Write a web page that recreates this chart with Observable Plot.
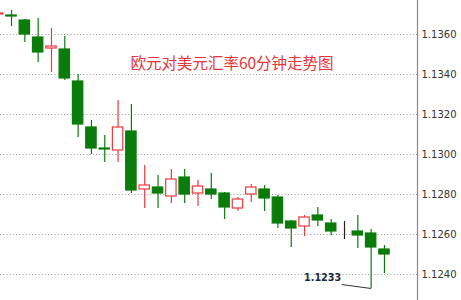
<!DOCTYPE html>
<html>
<head>
<meta charset="utf-8">
<script src="https://cdn.jsdelivr.net/npm/d3@7"></script>
<script src="https://cdn.jsdelivr.net/npm/@observablehq/plot@0.6"></script>
<style>
  html, body { margin: 0; padding: 0; background: #fff; }
  #chart svg { display: block; }
</style>
</head>
<body>
<div id="chart"></div>
<script>
// EUR/USD hourly candles (oldest first)
const open  = [1.13700, 1.13695, 1.13670, 1.13585, 1.13530, 1.13525, 1.13365, 1.13135, 1.13030, 1.13020,
               1.13115, 1.12825, 1.12835, 1.12790, 1.12885, 1.12805, 1.12825, 1.12805, 1.12730, 1.12800,
               1.12825, 1.12785, 1.12665, 1.12640, 1.12695, 1.12655, 1.12620, 1.12615, 1.12605, 1.12525];
const high  = [1.13720, 1.13720, 1.13675, 1.13680, 1.13630, 1.13590, 1.13400, 1.13170, 1.13095, 1.13270,
               1.13250, 1.12945, 1.12895, 1.12925, 1.12925, 1.12870, 1.12905, 1.12810, 1.12785, 1.12850,
               1.12845, 1.12795, 1.12670, 1.12695, 1.12735, 1.12675, 1.12665, 1.12695, 1.12625, 1.12545];
const low   = [1.13680, 1.13640, 1.13560, 1.13460, 1.13410, 1.13370, 1.13085, 1.13000, 1.12960, 1.12960,
               1.12805, 1.12730, 1.12730, 1.12755, 1.12755, 1.12740, 1.12775, 1.12675, 1.12715, 1.12760,
               1.12715, 1.12630, 1.12535, 1.12590, 1.12640, 1.12595, 1.12575, 1.12530, 1.12330, 1.12405];
const close = [1.13705, 1.13690, 1.13600, 1.13510, 1.13540, 1.13380, 1.13150, 1.13030, 1.13025, 1.13135,
               1.12820, 1.12845, 1.12805, 1.12875, 1.12800, 1.12840, 1.12800, 1.12735, 1.12775, 1.12835,
               1.12780, 1.12655, 1.12630, 1.12685, 1.12670, 1.12615, 1.12620, 1.12595, 1.12535, 1.12500];

const yTicks = [1.1240, 1.1260, 1.1280, 1.1300, 1.1320, 1.1340, 1.1360];
const title = "欧元对美元汇率60分钟走势图";
const lowLabelIndex = 28; // candle whose low is annotated

const UP = "#ec3a40", DOWN = "#0b7c0b", FLAT = "#222";

const candles = open.map((o, i) => ({
  i, open: o, high: high[i], low: low[i], close: close[i],
  color: close[i] > o ? UP : close[i] < o ? DOWN : FLAT,
  fill: close[i] > o ? "#fff" : close[i] < o ? DOWN : FLAT
}));

const xDomain = [0.1727, 31.48];
const halfBody = 0.39;
const lowPt = candles[lowLabelIndex];

const chart = Plot.plot({
  width: 461,
  height: 300,
  marginTop: 0,
  marginBottom: 0,
  marginLeft: 0,
  marginRight: 44,
  style: { background: "#fff", overflow: "hidden" },
  x: { type: "linear", domain: xDomain, axis: null },
  y: { domain: [1.1227, 1.1377] },
  marks: [
    Plot.ruleY(yTicks, { stroke: "#9a9a9a", strokeDasharray: "1,2.2", strokeWidth: 1 }),
    Plot.ruleX([xDomain[1]], { stroke: "#8a8a8a", strokeWidth: 1.2 }),
    Plot.axisY({
      anchor: "right", ticks: yTicks, tickSize: 0, tickPadding: 4,
      tickFormat: d3.format(".4f"),
      fontFamily: "DejaVu Sans", fontSize: 10, fill: "#333", label: null
    }),
    Plot.ruleX(candles, { x: "i", y1: "low", y2: "high", stroke: "color", strokeWidth: 1.2 }),
    Plot.rect(candles, {
      x1: d => d.i - halfBody, x2: d => d.i + halfBody,
      y1: "open", y2: "close",
      fill: "fill", stroke: "color", strokeWidth: 1.2
    }),
    Plot.link([lowPt], {
      x1: d => d.i - 2.22, y1: d => d.low + 0.0002,
      x2: "i", y2: "low",
      stroke: "#333", strokeWidth: 1
    }),
    Plot.text([lowPt], {
      x: "i", y: "low", text: d => d3.format(".4f")(d.low),
      dx: -30, dy: -11, textAnchor: "end",
      fontFamily: "DejaVu Sans", fontWeight: "bold", fontSize: 9.6, fill: "#1c2840"
    }),
    Plot.text([title], {
      frameAnchor: "top-left", dx: 231.5, dy: 57, textAnchor: "middle",
      fontFamily: "Noto Sans CJK SC", fontSize: 15.5, fill: "#e8343a"
    })
  ]
});

document.getElementById("chart").append(chart);
</script>
</body>
</html>
